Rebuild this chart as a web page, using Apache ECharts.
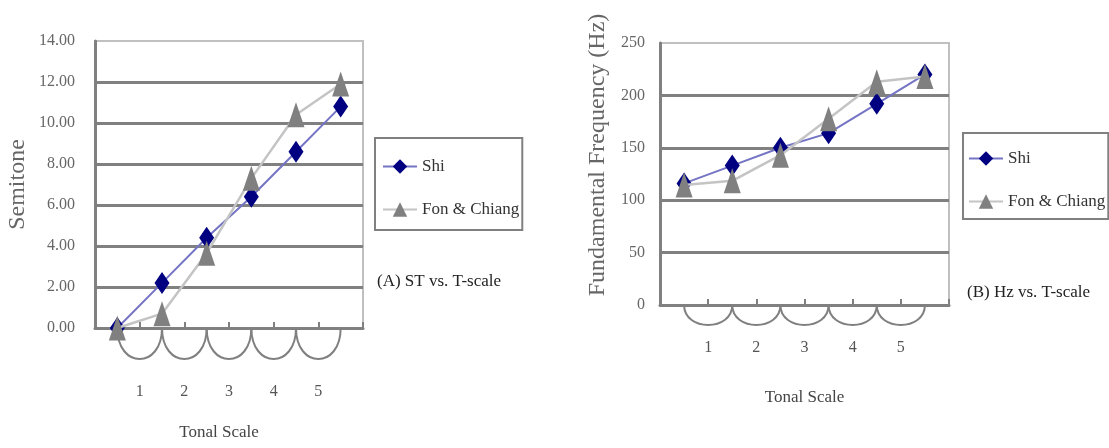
<!DOCTYPE html>
<html>
<head>
<meta charset="utf-8">
<script src="https://cdn.jsdelivr.net/npm/echarts@6/dist/echarts.min.js"></script>
<style>
  html, body { margin: 0; padding: 0; background: #ffffff; }
  #chart { width: 1109px; height: 448px; }
</style>
</head>
<body>
<div id="chart"></div>
<script>
// Pitch points along the tonal scale (six points bound five tonal steps)
const pitchPoints = ['0', '1', '2', '3', '4', '5'];
const tonalSteps = ['1', '2', '3', '4', '5'];

// Panel A: semitones
const shiSemitone = [0, 2.2, 4.4, 6.4, 8.6, 10.8];
const fonSemitone = [0, 0.7, 3.65, 7.3, 10.4, 11.9];

// Panel B: fundamental frequency in Hz
const shiHz = [116, 133, 150, 164, 192, 220];
const fonHz = [114.5, 118.5, 143, 177.7, 213, 218];

const seriesNames = ['Shi', 'Fon & Chiang'];
const panelTitles = ['(A) ST vs. T-scale', '(B) Hz vs. T-scale'];
const axisNames = { x: 'Tonal Scale', yA: 'Semitone', yB: 'Fundamental Frequency (Hz)' };

const SERIF = '"Liberation Serif", "Times New Roman", serif';
const DARK = '#808080';
const LIGHT = '#c0c0c0';

function yAxisCommon(gridIndex, name, nameGap, margin, fmt, namePadding) {
  return {
    type: 'value', gridIndex,
    name, nameLocation: 'middle', nameGap,
    nameTextStyle: { fontFamily: SERIF, fontSize: 24, color: '#666', padding: namePadding },
    axisLine: { show: true, lineStyle: { color: DARK, width: 3 } },
    axisTick: { show: false },
    axisLabel: { fontFamily: SERIF, fontSize: 16, color: '#666', margin, formatter: fmt },
    splitLine: { show: true, showMaxLine: false, lineStyle: { color: DARK, width: 3 } }
  };
}

function xAxisCommon(gridIndex, nameGap, namePadding) {
  return {
    type: 'category', gridIndex, data: pitchPoints, boundaryGap: true,
    name: axisNames.x, nameLocation: 'middle', nameGap,
    nameTextStyle: { fontFamily: SERIF, fontSize: 17, color: '#444', padding: namePadding },
    axisLine: { show: true, lineStyle: { color: DARK, width: 3 } },
    axisTick: { show: true, inside: true, length: 6, lineStyle: { color: DARK, width: 2 } },
    axisLabel: { show: false },
    splitLine: { show: false }
  };
}

function shiSeries(xi, data) {
  return {
    name: seriesNames[0], type: 'line', xAxisIndex: xi, yAxisIndex: xi, data,
    symbol: 'diamond', symbolSize: [15, 22],
    itemStyle: { color: '#000080' },
    lineStyle: { color: '#7474c4', width: 2 },
    z: 3
  };
}

function fonSeries(xi, data) {
  return {
    name: seriesNames[1], type: 'line', xAxisIndex: xi, yAxisIndex: xi, data,
    symbol: 'triangle', symbolSize: [17, 25],
    itemStyle: { color: '#808080' },
    lineStyle: { color: '#c4c4c4', width: 2.5 },
    z: 4
  };
}

// Arcs joining neighbouring pitch points under the axis, with the step number beneath
function stepArcs(xi, depth, labelDrop) {
  return {
    type: 'custom', xAxisIndex: xi, yAxisIndex: xi, silent: true, clip: false, z: 2,
    data: tonalSteps.map((s, i) => ({ value: [i, 0], name: s })),
    renderItem(params, api) {
      const i = api.value(0);
      const a = api.coord([i, 0]);
      const b = api.coord([i + 1, 0]);
      const k = depth * 4 / 3;
      return {
        type: 'group',
        children: [
          {
            type: 'bezierCurve',
            shape: { x1: a[0], y1: a[1], cpx1: a[0], cpy1: a[1] + k, cpx2: b[0], cpy2: b[1] + k, x2: b[0], y2: b[1] },
            style: { stroke: DARK, lineWidth: 2, fill: null }
          },
          {
            type: 'text',
            style: {
              text: tonalSteps[params.dataIndex],
              x: (a[0] + b[0]) / 2, y: a[1] + labelDrop,
              align: 'center', verticalAlign: 'middle',
              fill: '#555', font: '16px ' + SERIF
            }
          }
        ]
      };
    }
  };
}

function legendBox(left, top, padding, itemGap) {
  return {
    data: seriesNames, orient: 'vertical', left, top, padding, itemGap,
    itemWidth: 34, itemHeight: 18, selectedMode: false,
    borderColor: DARK, borderWidth: 2,
    textStyle: { fontFamily: SERIF, fontSize: 17, color: '#333' }
  };
}

const chart = echarts.init(document.getElementById('chart'));
chart.setOption({
  backgroundColor: '#ffffff',
  animation: false,
  grid: [
    { left: 95, top: 41, width: 268, height: 287, show: true, borderColor: LIGHT, borderWidth: 2, backgroundColor: 'transparent' },
    { left: 660, top: 43, width: 289, height: 262, show: true, borderColor: LIGHT, borderWidth: 2, backgroundColor: 'transparent' }
  ],
  xAxis: [
    xAxisCommon(0, 96, [0, 20, 0, 0]),
    xAxisCommon(1, 84, 0)
  ],
  yAxis: [
    Object.assign(yAxisCommon(0, axisNames.yA, 65, 20, v => v.toFixed(2), 0), { min: 0, max: 14, interval: 2 }),
    Object.assign(yAxisCommon(1, axisNames.yB, 50, 15, v => String(v), [0, 0, 0, 38]), { min: 0, max: 250, interval: 50 })
  ],
  legend: [
    legendBox(375, 138, [20, 3, 12, 7], 26),
    legendBox(963, 133, [17, 3, 9, 5], 26)
  ],
  graphic: [
    { type: 'text', x: 377, y: 282, style: { text: panelTitles[0], font: '17px ' + SERIF, fill: '#222', verticalAlign: 'middle' } },
    { type: 'text', x: 967, y: 293, style: { text: panelTitles[1], font: '17px ' + SERIF, fill: '#222', verticalAlign: 'middle' } }
  ],
  series: [
    stepArcs(0, 31, 64),
    shiSeries(0, shiSemitone),
    fonSeries(0, fonSemitone),
    stepArcs(1, 20, 43),
    shiSeries(1, shiHz),
    fonSeries(1, fonHz)
  ]
});
</script>
</body>
</html>
